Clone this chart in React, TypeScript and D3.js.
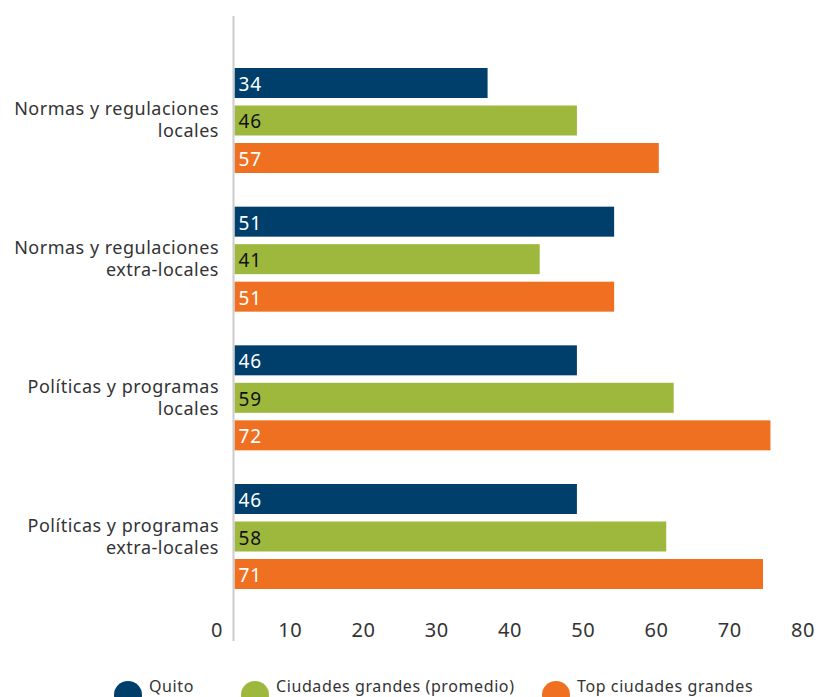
import React from "react";
import * as d3 from "d3";

const categories = [
  ["Normas y regulaciones", "locales"],
  ["Normas y regulaciones", "extra-locales"],
  ["Políticas y programas", "locales"],
  ["Políticas y programas", "extra-locales"],
];
const seriesNames = ["Quito", "Ciudades grandes (promedio)", "Top ciudades grandes"];
const quito = [34, 51, 46, 46];
const ciudadesGrandes = [46, 41, 59, 58];
const topCiudades = [57, 51, 72, 71];
const tickValues = [0, 10, 20, 30, 40, 50, 60, 70, 80];

const colors = ["#003F6B", "#9DB83D", "#F07022"];
const labelColors = ["#ffffff", "#111111", "#ffffff"];
const FONT = "'Noto Sans', sans-serif";

export default function App() {
  const W = 820, H = 697;
  const seriesValues = [quito, ciudadesGrandes, topCiudades];
  const x = d3.scaleLinear().domain([0, 80]).range([234.5, 830]);
  const tickX = d3.scaleLinear().domain([0, 80]).range([217, 803]);
  const y0 = d3.scaleBand<number>().domain(d3.range(categories.length)).range([68, 589]).paddingInner(0.2428).paddingOuter(0);
  const y1 = d3.scaleBand<number>().domain(d3.range(3)).range([0, y0.bandwidth()]).paddingInner(0.2).paddingOuter(0);

  return (
    <svg width={W} height={H} style={{ position: "absolute", left: 0, top: 0, background: "#fff" }} fontFamily={FONT}>
      {categories.map((cat, i) => {
        const gy = y0(i)!;
        const cy = gy + y0.bandwidth() / 2;
        return (
          <g key={i}>
            <text x={219} y={cy - 12} textAnchor="end" dominantBaseline="central" fontSize={18} fill="#333" letterSpacing={0.5}>
              {cat[0]}
            </text>
            <text x={219} y={cy + 10} textAnchor="end" dominantBaseline="central" fontSize={18} fill="#333" letterSpacing={0.5}>
              {cat[1]}
            </text>
            {seriesValues.map((vals, j) => {
              const by = gy + y1(j)!;
              return (
                <g key={j}>
                  <rect x={x(0)} y={by} width={x(vals[i]) - x(0)} height={y1.bandwidth()} fill={colors[j]} />
                  <text x={x(0) + 4} y={by + y1.bandwidth() / 2 + 1} dominantBaseline="central" fontSize={19} fill={labelColors[j]} letterSpacing={1}>
                    {vals[i]}
                  </text>
                </g>
              );
            })}
          </g>
        );
      })}
      <line x1={233.5} x2={233.5} y1={16} y2={641} stroke="#cccccc" strokeWidth={2} />
      {tickValues.map((t) => (
        <text key={t} x={tickX(t)} y={629} textAnchor="middle" dominantBaseline="central" fontSize={20} fill="#333" letterSpacing={0.5}>
          {t}
        </text>
      ))}
      {seriesNames.map((name, j) => {
        const lx = [128, 255, 556][j];
        return (
          <g key={name}>
            <circle cx={lx} cy={695} r={14} fill={colors[j]} />
            <text x={lx + 21} y={686} dominantBaseline="central" fontSize={16} fill="#333" letterSpacing={0.6}>
              {name}
            </text>
          </g>
        );
      })}
    </svg>
  );
}
